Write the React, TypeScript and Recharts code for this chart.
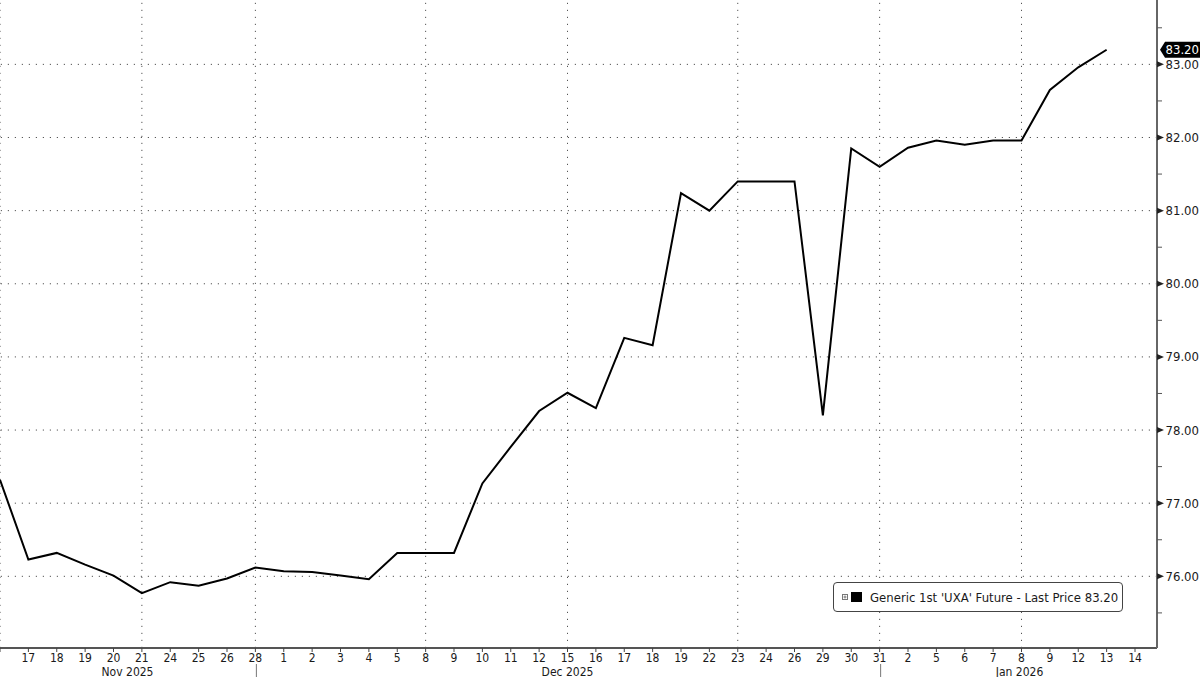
import React from 'react';
import { LineChart, Line, XAxis, YAxis, ReferenceLine, Legend } from 'recharts';

const dateKeys = [
  '2025-11-14', '2025-11-17', '2025-11-18', '2025-11-19', '2025-11-20', '2025-11-21',
  '2025-11-24', '2025-11-25', '2025-11-26', '2025-11-28',
  '2025-12-01', '2025-12-02', '2025-12-03', '2025-12-04', '2025-12-05', '2025-12-08',
  '2025-12-09', '2025-12-10', '2025-12-11', '2025-12-12', '2025-12-15', '2025-12-16',
  '2025-12-17', '2025-12-18', '2025-12-19', '2025-12-22', '2025-12-23', '2025-12-24',
  '2025-12-26', '2025-12-29', '2025-12-30', '2025-12-31',
  '2026-01-02', '2026-01-05', '2026-01-06', '2026-01-07', '2026-01-08', '2026-01-09',
  '2026-01-12', '2026-01-13', '2026-01-14',
];

const dayLabels = [
  '14', '17', '18', '19', '20', '21', '24', '25', '26', '28',
  '1', '2', '3', '4', '5', '8', '9', '10', '11', '12', '15', '16', '17', '18', '19',
  '22', '23', '24', '26', '29', '30', '31',
  '2', '5', '6', '7', '8', '9', '12', '13', '14',
];

const prices: (number | null)[] = [
  77.32, 76.23, 76.32, 76.16, 76.01, 75.77, 75.92, 75.87, 75.97, 76.12,
  76.07, 76.06, 76.01, 75.96, 76.32, 76.32, 76.32, 77.27, 77.77, 78.26, 78.51, 78.30,
  79.26, 79.16, 81.24, 81.00, 81.40, 81.40, 81.40, 78.20, 81.85, 81.60,
  81.86, 81.96, 81.90, 81.96, 81.96, 82.65, 82.96, 83.20, null,
];

const lastPrice = 83.2;
const seriesName = "Generic 1st 'UXA' Future - Last Price 83.20";

const majorYTicks = [76, 77, 78, 79, 80, 81, 82, 83];
const minorYTicks = [75.5, 76.5, 77.5, 78.5, 79.5, 80.5, 81.5, 82.5, 83.5];
const weeklyGridKeys = ['2025-11-14', '2025-11-21', '2025-11-28', '2025-12-08', '2025-12-15', '2025-12-23', '2025-12-31', '2026-01-08'];
const monthEndKeys = ['2025-11-28', '2025-12-31'];
const monthLabels = ['Nov 2025', 'Dec 2025', 'Jan 2026'];
const monthLabelKeys = ['2025-11-20', '2025-12-15', '2026-01-08'];

const data = dateKeys.map((d, i) => ({ date: d, price: prices[i] }));
const yTicks = [...majorYTicks, ...minorYTicks, lastPrice].sort((a, b) => a - b);

const FONT = "'DejaVu Sans Condensed', 'Liberation Sans', Arial, sans-serif";
const TEXT = '#1a1a1a';

// position tweak for month labels (centered between month separators)
const monthDx = [14, 0, -2];

const XTick = (props: any) => {
  const { x, y, payload } = props;
  const key = payload.value as string;
  const i = dateKeys.indexOf(key);
  const m = monthLabelKeys.indexOf(key);
  return (
    <g>
      <line x1={x} x2={x} y1={y} y2={y + 4} stroke="#444" strokeWidth={1} />
      {i > 0 && (
        <text x={x} y={y + 13.5} textAnchor="middle" fontFamily={FONT} fontSize={12} fill={TEXT}>
          {dayLabels[i]}
        </text>
      )}
      {monthEndKeys.includes(key) && (
        <line x1={x + 1} x2={x + 1} y1={y + 16} y2={y + 30} stroke="#777" strokeWidth={1} />
      )}
      {m >= 0 && (
        <text x={x + monthDx[m]} y={y + 27.5} textAnchor="middle" fontFamily={FONT} fontSize={12} fill={TEXT}>
          {monthLabels[m]}
        </text>
      )}
    </g>
  );
};

const YTick = (props: any) => {
  const { x, y, payload } = props;
  const v = payload.value as number;
  if (v === lastPrice) {
    return (
      <g>
        <polygon
          points={`${x + 3},${y} ${x + 8},${y - 8} ${x + 45},${y - 8} ${x + 45},${y + 8} ${x + 8},${y + 8}`}
          fill="#000"
        />
        <text x={x + 8.5} y={y + 4.5} fontFamily={FONT} fontSize={13} fill="#fff">
          {v.toFixed(2)}
        </text>
      </g>
    );
  }
  if (majorYTicks.includes(v)) {
    return (
      <g>
        <polygon points={`${x},${y - 3} ${x + 7},${y} ${x},${y + 3}`} fill="#222" />
        <text x={x + 8.5} y={y + 4.5} fontFamily={FONT} fontSize={13} fill={TEXT}>
          {v.toFixed(2)}
        </text>
      </g>
    );
  }
  return <line x1={x} x2={x + 5} y1={y} y2={y} stroke="#555" strokeWidth={1} />;
};

const LegendBox = (props: any) => {
  const item = props.payload && props.payload[0];
  return (
    <div
      style={{
        boxSizing: 'border-box',
        width: 290,
        height: 30,
        border: '1px solid #444',
        borderRadius: 4,
        background: '#fff',
        display: 'flex',
        alignItems: 'center',
        paddingLeft: 8,
        fontFamily: FONT,
        fontSize: 13,
        color: TEXT,
        whiteSpace: 'nowrap',
      }}
    >
      <svg width={24} height={12} style={{ marginRight: 8 }}>
        <rect x={0.5} y={3.5} width={5} height={5} fill="#fff" stroke="#777" strokeWidth={1} />
        <line x1={1.5} x2={4.5} y1={6} y2={6} stroke="#777" />
        <line x1={3} x2={3} y1={4.5} y2={7.5} stroke="#777" />
        <rect x={9} y={1} width={11} height={10} fill="#000" />
      </svg>
      <span style={{ marginLeft: -4 }}>{item ? item.value : seriesName}</span>
    </div>
  );
};

export default function App() {
  return (
    <div style={{ position: 'absolute', left: 0, top: 0, width: 1200, height: 677, background: '#fff' }}>
      <LineChart width={1200} height={677} data={data} margin={{ top: 0, right: 0, bottom: 0, left: 0 }}>
        {majorYTicks.map((v) => (
          <ReferenceLine key={'h' + v} y={v} stroke="#555" strokeWidth={1} strokeDasharray="1.2 5.8" />
        ))}
        {weeklyGridKeys.map((k) => (
          <ReferenceLine key={'v' + k} x={k} stroke="#555" strokeWidth={1} strokeDasharray="1.2 5.8" />
        ))}
        <XAxis
          dataKey="date"
          type="category"
          scale="point"
          padding={{ left: 0, right: 22 }}
          height={29}
          interval={0}
          tickSize={0}
          tickMargin={0}
          axisLine={{ stroke: '#555', strokeWidth: 2 }}
          tickLine={false}
          tick={<XTick />}
        />
        <YAxis
          orientation="right"
          width={43}
          domain={[75.02, 83.88]}
          type="number"
          ticks={yTicks}
          interval={0}
          allowDataOverflow
          tickSize={0}
          tickMargin={0}
          axisLine={{ stroke: '#666', strokeWidth: 2 }}
          tickLine={false}
          tick={<YTick />}
        />
        <Legend
          layout="horizontal"
          verticalAlign="middle"
          align="center"
          width={290}
          height={30}
          wrapperStyle={{ left: 833, top: 582, width: 290, height: 30 }}
          content={<LegendBox />}
        />
        <Line
          type="linear"
          dataKey="price"
          name={seriesName}
          stroke="#000"
          strokeWidth={2}
          dot={false}
          activeDot={false}
          isAnimationActive={false}
          connectNulls={false}
        />
      </LineChart>
    </div>
  );
}
